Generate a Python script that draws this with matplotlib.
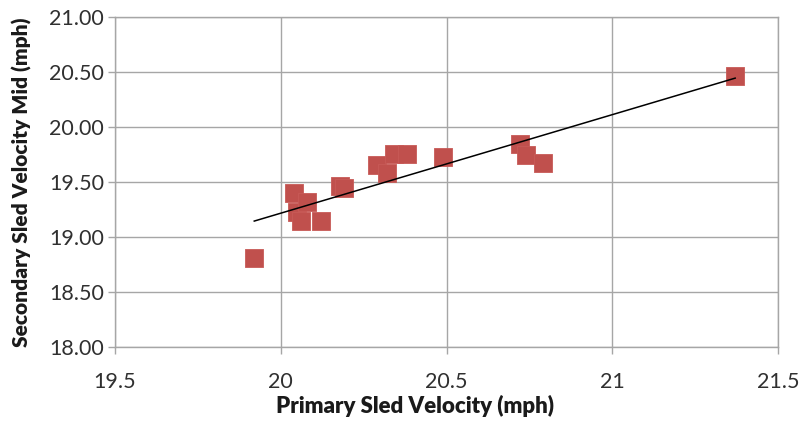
import numpy as np
import matplotlib
matplotlib.use("Agg")
import matplotlib.pyplot as plt

# Sled velocity pairs (mph)
primary_vel = [19.92, 20.04, 20.05, 20.06, 20.08, 20.12, 20.18, 20.19, 20.29,
               20.32, 20.34, 20.38, 20.49, 20.72, 20.74, 20.79, 21.37]
secondary_vel = [18.81, 19.40, 19.23, 19.14, 19.32, 19.14, 19.46, 19.44, 19.65,
                 19.58, 19.75, 19.75, 19.73, 19.84, 19.74, 19.67, 20.46]

x_ticks = [19.5, 20, 20.5, 21, 21.5]
y_ticks = [18.0, 18.5, 19.0, 19.5, 20.0, 20.5, 21.0]

plt.rcParams['font.family'] = ['Lato', 'DejaVu Sans']

fig = plt.figure(figsize=(8.04, 4.21), dpi=100)
ax = fig.add_axes([0.143, 0.176, 0.825, 0.784])

grid_c = '#a6a6a6'
ax.set_axisbelow(True)
ax.grid(True, color=grid_c, linewidth=1.0)

x = np.array(primary_vel)
y = np.array(secondary_vel)
ax.scatter(x, y, marker='s', s=185, color='#c0504d', edgecolors='#c85a57',
           linewidths=0.6, zorder=3)

# linear trendline over the data range
m, b = np.polyfit(x, y, 1)
xs = np.array([x.min(), x.max()])
ax.plot(xs, m * xs + b, color='black', linewidth=1.1, zorder=4)

ax.set_xlim(19.5, 21.5)
ax.set_ylim(18.0, 21.0)
ax.set_xticks(x_ticks)
ax.set_xticklabels([f"{v:g}" for v in x_ticks])
ax.set_yticks(y_ticks)
ax.set_yticklabels([f"{v:.2f}" for v in y_ticks])

for s in ax.spines.values():
    s.set_color(grid_c)
    s.set_linewidth(1.0)
ax.tick_params(axis='both', colors=grid_c, length=5, width=1.0,
               labelcolor='#303030', labelsize=15.5)
ax.tick_params(axis='x', pad=13)
ax.tick_params(axis='y', pad=3)

ax.set_xlabel("Primary Sled Velocity (mph)", fontsize=16, fontweight='heavy',
              color='#1a1a1a')
ax.set_ylabel("Secondary Sled Velocity Mid (mph)", fontsize=15, fontweight='heavy',
              color='#1a1a1a')
ax.xaxis.set_label_coords(0.452, -0.145)
ax.yaxis.set_label_coords(-0.125, 0.5)

fig.savefig("out.png", dpi=100)
plt.close(fig)
